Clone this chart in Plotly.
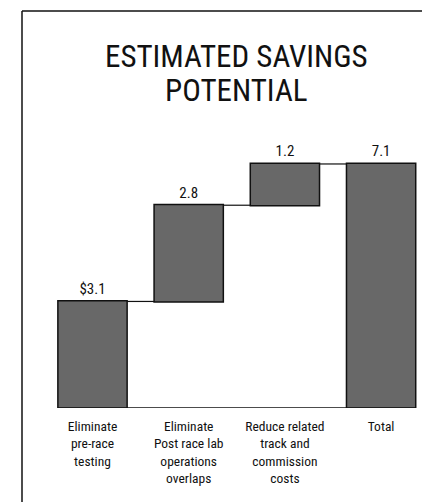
import plotly.graph_objects as go

# ---- data ----
categories = [
    "Eliminate<br>pre-race<br>testing",
    "Eliminate<br>Post race lab<br>operations<br>overlaps",
    "Reduce related<br>track and<br>commission<br>costs",
    "Total",
]
values = [3.1, 2.8, 1.2, 7.1]
measures = ["relative", "relative", "relative", "total"]
value_labels = ["$3.1", "2.8", "1.2", "7.1"]
title_lines = ["ESTIMATED SAVINGS", "POTENTIAL"]

NARROW = "Roboto Condensed, DejaVu Sans Condensed, sans-serif"
BAR_FILL = "#686868"
INK = "#111111"
BAR_W = 0.72

# ---- layout geometry (pixels) ----
W, H = 422, 502
ML, MR, MT, MB = 40, 2, 140, 94
plot_w = W - ML - MR
plot_h = H - MT - MB
px_per_cat = 96.2
first_center_px = 92.5
x0 = -(first_center_px - ML) / px_per_cat
x1 = x0 + plot_w / px_per_cat
px_per_unit = 34.37
ymax = plot_h / px_per_unit


def px_to_paper_x(px):
    return (px - ML) / plot_w


def px_to_paper_y(py):
    return (H - MB - py) / plot_h


xs = list(range(len(categories)))
bar_style = dict(marker=dict(color=BAR_FILL, line=dict(color=INK, width=1.5)))

fig = go.Figure(
    go.Waterfall(
        x=xs,
        y=values,
        measure=measures,
        text=value_labels,
        texttemplate="%{text}",
        textposition="outside",
        textfont=dict(family=NARROW, size=15, color=INK),
        width=BAR_W,
        increasing=bar_style,
        decreasing=bar_style,
        totals=bar_style,
        connector=dict(line=dict(color=INK, width=1.2)),
        hoverinfo="skip",
        cliponaxis=False,
    )
)

shapes = [
    # baseline under the bars
    dict(type="line", xref="x", yref="y", x0=xs[0] - BAR_W / 2, x1=xs[-1] + BAR_W / 2,
         y0=0, y1=0, line=dict(color=INK, width=1.5)),
    # frame: left and top borders
    dict(type="line", xref="paper", yref="paper",
         x0=px_to_paper_x(22), x1=px_to_paper_x(22),
         y0=px_to_paper_y(11), y1=px_to_paper_y(H),
         line=dict(color=INK, width=1.5)),
    dict(type="line", xref="paper", yref="paper",
         x0=px_to_paper_x(22), x1=px_to_paper_x(W),
         y0=px_to_paper_y(11), y1=px_to_paper_y(11),
         line=dict(color=INK, width=1.5)),
]

annotations = []
title_centers_px = [56, 90]
for line, cy in zip(title_lines, title_centers_px):
    annotations.append(dict(
        text=line, xref="paper", yref="paper",
        x=px_to_paper_x(237), y=px_to_paper_y(cy),
        xanchor="center", yanchor="middle", showarrow=False,
        borderpad=0,
        font=dict(family=NARROW, size=31, color=INK),
    ))

fig.update_layout(
    width=W, height=H,
    margin=dict(l=ML, r=MR, t=MT, b=MB, pad=0),
    paper_bgcolor="white", plot_bgcolor="white",
    showlegend=False,
    shapes=shapes,
    annotations=annotations,
    xaxis=dict(
        range=[x0, x1],
        tickmode="array", tickvals=xs, ticktext=categories,
        tickfont=dict(family=NARROW, size=13.5, color=INK),
        ticklabelstandoff=8,
        showgrid=False, zeroline=False, showline=False, ticks="",
        fixedrange=True,
    ),
    yaxis=dict(
        range=[0, ymax], visible=False, showgrid=False, zeroline=False,
        fixedrange=True,
    ),
)

fig.write_html(
    "out.html",
    config={"displayModeBar": False},
    post_script="document.body.style.margin='0';"
                "document.documentElement.style.overflow='hidden';"
                "document.body.style.overflow='hidden';",
)
